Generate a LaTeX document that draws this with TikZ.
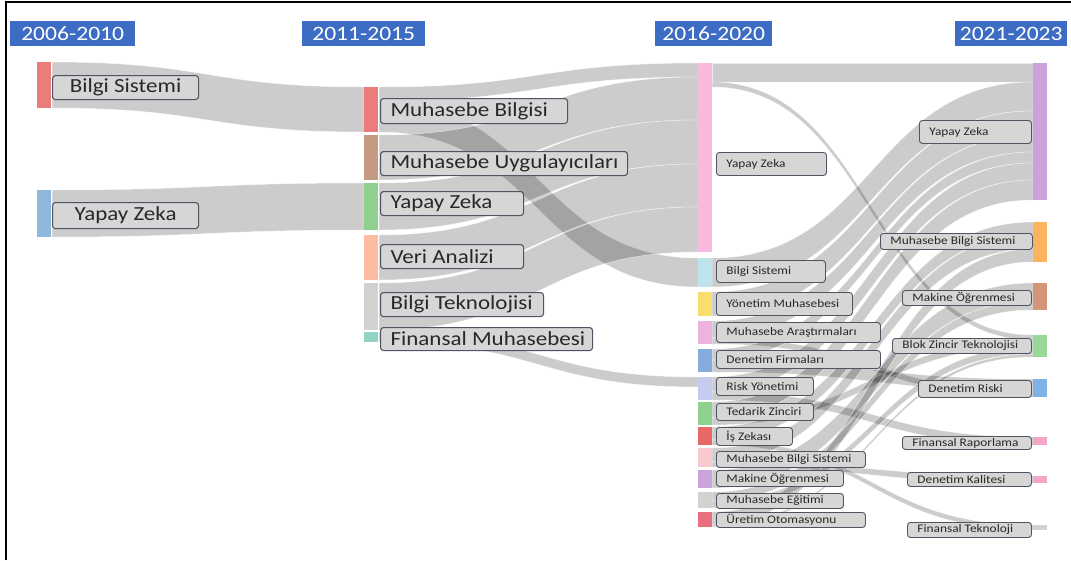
\documentclass[tikz,border=0pt]{standalone}
\usepackage{fontspec}
\setmainfont{Carlito}[FakeStretch=1.15]
\definecolor{hdrblue}{RGB}{60,108,196}
\definecolor{lblfill}{RGB}{214,214,214}
\definecolor{lblline}{RGB}{78,84,98}
\definecolor{lbltext}{RGB}{40,40,40}
\definecolor{cRed}{RGB}{236,123,123}
\definecolor{cSky}{RGB}{141,184,220}
\definecolor{cBrown}{RGB}{197,154,130}
\definecolor{cGreen}{RGB}{142,208,142}
\definecolor{cPeach}{RGB}{251,188,162}
\definecolor{cGray}{RGB}{210,210,210}
\definecolor{cTeal}{RGB}{147,211,198}
\definecolor{cPink}{RGB}{249,185,220}
\definecolor{cCyan}{RGB}{191,227,236}
\definecolor{cYellow}{RGB}{248,222,110}
\definecolor{cOrchid}{RGB}{235,179,221}
\definecolor{cBlue}{RGB}{134,172,222}
\definecolor{cLav}{RGB}{198,203,240}
\definecolor{cRed2}{RGB}{232,103,103}
\definecolor{cRose}{RGB}{249,201,207}
\definecolor{cPurple}{RGB}{201,163,218}
\definecolor{cRed3}{RGB}{232,112,126}
\definecolor{cOrange}{RGB}{251,179,96}
\definecolor{cTan}{RGB}{212,150,122}
\definecolor{cLime}{RGB}{152,216,152}
\definecolor{cAzure}{RGB}{127,178,230}
\definecolor{cFuchsia}{RGB}{244,166,200}
\begin{document}
\begin{tikzpicture}[x=1pt, y=-1pt,
        flowband/.style={fill=black, fill opacity=0.2, draw=white, draw opacity=0.6, line width=0.5pt},
        bar/.style={anchor=north west, inner sep=0pt, minimum width=14pt},
        lbl/.style={anchor=north west, draw=lblline, fill=lblfill, rounded corners=3pt, line width=1.1pt, inner xsep=10pt, inner ysep=0pt, text=lbltext},
        big/.style={font=\fontsize{20}{22}\selectfont},
        small/.style={font=\fontsize{11.6}{12}\selectfont, line width=0.9pt},
        period/.style={anchor=north west, fill=hdrblue, text=white, inner sep=0pt, minimum height=25pt, font=\fontsize{20.5}{22}\selectfont}]
    \useasboundingbox (0,0) rectangle (1071,560);
    \draw[line width=2pt] (5.5,560) -- (5.5,2) -- (1071,2);
    \foreach \nm/\x/\w/\txt in {h1/10/125/2006-2010, h2/302/123/2011-2015, h3/655/117/2016-2020, h4/955/112/2021-2023}
        \node[period, minimum width=\w pt] (\nm) at (\x,21) {\txt};
    \foreach \xa/\ya/\yb/\xb/\yc/\yd in {
            52/62/108/364/87/132, 52/190/237/364/183/230,
            379/87/101/698/63/77, 379/101/132/698/258/287, 379/135/180/698/77/120,
            379/183/230/698/120/164, 379/235/280/698/164/207, 379/283/330/698/207/252,
            379/332/342/698/377/387,
            712/63/82/1033/63/82, 712/82/87/1033/335/340, 712/258/287/1033/82/111,
            712/292/316/1033/111/135, 712/321/338/1033/135/152, 712/338/344/1033/391/397,
            712/349/360/1033/152/163, 712/360/372/1033/379/391, 712/377/392/1033/163/180,
            712/392/400/1033/437/445, 712/402/418/1033/180/200, 712/418/425/1033/340/347,
            712/427/440/1033/222/235, 712/440/445/1033/525/530, 712/448/462/1033/235/249,
            712/462/467/1033/476/483, 712/470/488/1033/283/301, 712/492/501/1033/301/310,
            712/501/508/1033/347/354, 712/512/525/1033/249/262, 712/525/527/1033/354/357}
        {
            \path[flowband] (\xa,\ya) .. controls ({(\xa+\xb)/2},\ya) and ({(\xa+\xb)/2},\yc) .. (\xb,\yc)
                -- (\xb,\yd) .. controls ({(\xa+\xb)/2},\yd) and ({(\xa+\xb)/2},\yb) .. (\xa,\yb) -- cycle;
        }
    \foreach \nm/\x/\y/\h/\col in {
            b1a/37/62/46/cRed, b1b/37/190/47/cSky,
            b2a/364/87/45/cRed, b2b/364/135/45/cBrown, b2c/364/183/47/cGreen,
            b2d/364/235/45/cPeach, b2e/364/283/47/cGray, b2f/364/332/10/cTeal,
            b3a/698/63/189/cPink, b3b/698/258/29/cCyan, b3c/698/292/24/cYellow,
            b3d/698/321/23/cOrchid, b3e/698/349/23/cBlue, b3f/698/377/23/cLav,
            b3g/698/402/23/cGreen, b3h/698/427/18/cRed2, b3i/698/448/19/cRose,
            b3j/698/470/18/cPurple, b3k/698/492/16/cGray, b3l/698/512/15/cRed3,
            b4a/1033/63/137/cPurple, b4b/1033/222/40/cOrange, b4c/1033/283/27/cTan,
            b4d/1033/335/22/cLime, b4e/1033/379/18/cAzure, b4f/1033/437/8/cFuchsia,
            b4g/1033/476/7/cFuchsia, b4h/1033/525/5/cGray}
        \node[bar, fill=\col, minimum height=\h pt] (\nm) at (\x,\y) {};
    \foreach \nm/\x/\y/\w/\h/\txt [evaluate=\w as \tw using \w-20] in {
            l1a/52/75/146/24/Bilgi Sistemi, l1b/52/202/146/26/Yapay Zeka}
        \node[lbl, big, minimum width=\w pt, minimum height=\h pt] (\nm) at (\x,\y) {\makebox[\tw pt][c]{\txt}};
    \foreach \nm/\x/\y/\w/\h/\txt [evaluate=\w as \tw using \w-20] in {
            l2a/380/98/187/25/Muhasebe Bilgisi, l2b/380/151/247/24/Muhasebe Uygulayıcıları,
            l2c/380/191/143/24/Yapay Zeka, l2d/380/244/143/24/Veri Analizi,
            l2e/380/292/163/24/Bilgi Teknolojisi, l2f/380/327/212/23/Finansal Muhasebesi}
        \node[lbl, big, minimum width=\w pt, minimum height=\h pt] (\nm) at (\x,\y) {\makebox[\tw pt][l]{\txt}};
    \foreach \nm/\x/\y/\w/\h/\txt [evaluate=\w as \tw using \w-20] in {
            l3a/716/152/110/23/Yapay Zeka, l3b/716/260/109/22/Bilgi Sistemi,
            l3c/716/292/136/23/Yönetim Muhasebesi, l3d/716/322/164/20/Muhasebe Araştırmaları,
            l3e/716/350/164/18/Denetim Firmaları, l3f/716/377/97/18/Risk Yönetimi,
            l3g/716/403/97/17/Tedarik Zinciri, l3h/716/427/76/18/İş Zekası,
            l3i/716/451/149/16/Muhasebe Bilgi Sistemi, l3j/716/470/127/16/Makine Öğrenmesi,
            l3k/716/493/127/15/Muhasebe Eğitimi, l3l/716/512/149/15/Üretim Otomasyonu,
            l4a/919/120/112/23/Yapay Zeka, l4b/880/233/152/16/Muhasebe Bilgi Sistemi,
            l4c/902/290/129/15/Makine Öğrenmesi, l4d/892/338/139/15/Blok Zincir Teknolojisi,
            l4e/918/380/113/17/Denetim Riski, l4f/902/436/129/13/Finansal Raporlama,
            l4g/907/472/124/14/Denetim Kalitesi, l4h/907/522/124/15/Finansal Teknoloji}
        \node[lbl, small, minimum width=\w pt, minimum height=\h pt] (\nm) at (\x,\y) {\makebox[\tw pt][l]{\txt}};
\end{tikzpicture}
\end{document}
